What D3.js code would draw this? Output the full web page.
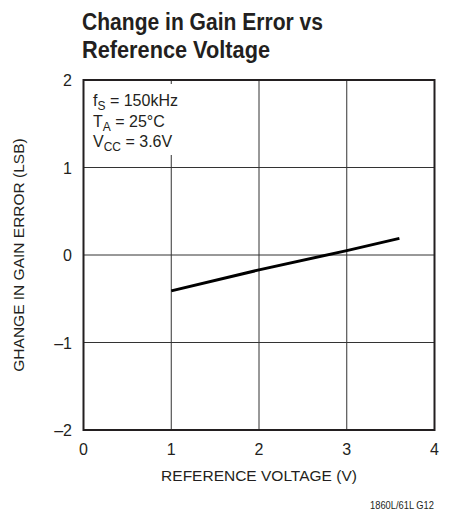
<!DOCTYPE html>
<html><head><meta charset="utf-8">
<script src="https://cdn.jsdelivr.net/npm/d3@7"></script>
<style>
body{margin:0;background:#fff;}
text{font-family:"Liberation Sans Narrow","Liberation Sans",Arial,sans-serif;fill:#231f20;}
</style></head>
<body><svg id="c" width="466" height="512"></svg>
<script>
const xTicks=[0,1,2,3,4];
const yTicks=[-2,-1,0,1,2];
const yTickLabels=["–2","–1","0","1","2"];
const refVoltage=[1,2,3,3.6];
const gainErrorChange=[-0.41,-0.17,0.05,0.19];
const titleLines=["Change in Gain Error vs","Reference Voltage"];
const titleWidths=[241,188];
const xLabel="REFERENCE VOLTAGE (V)";
const yLabel="GHANGE IN GAIN ERROR (LSB)";
const footnote="1860L/61L G12";

const svg=d3.select("#c");
const L=83.5,R=434.5,T=80,B=430;
const x=d3.scaleLinear().domain([0,4]).range([L,R]);
const y=d3.scaleLinear().domain([-2,2]).range([B,T]);

// title
svg.selectAll("text.title").data(titleLines).enter().append("text")
 .attr("x",82).attr("y",(d,i)=>30+i*28)
 .attr("font-size",23).attr("font-weight","bold")
 .attr("textLength",(d,i)=>titleWidths[i]).attr("lengthAdjust","spacingAndGlyphs").text(d=>d);

// grid
const g=svg.append("g");
g.selectAll("line.v").data(xTicks.slice(1,-1)).enter().append("line")
 .attr("x1",d=>x(d)).attr("x2",d=>x(d)).attr("y1",T).attr("y2",B)
 .attr("stroke","#333").attr("stroke-width",1);
g.selectAll("line.h").data(yTicks.slice(1,-1)).enter().append("line")
 .attr("x1",L).attr("x2",R).attr("y1",d=>y(d)).attr("y2",d=>y(d))
 .attr("stroke","#333").attr("stroke-width",1);

// annotation background
svg.append("rect").attr("x",86).attr("y",84).attr("width",112).attr("height",71).attr("fill","#fff");
const ann=[["f","S"," = 150kHz"],["T","A"," = 25°C"],["V","CC"," = 3.6V"]];
ann.forEach((a,i)=>{
 const t=svg.append("text").attr("x",93).attr("y",106+i*20.5).attr("font-size",16);
 t.append("tspan").text(a[0]);
 t.append("tspan").attr("font-size",12).attr("dy",4).text(a[1]);
 t.append("tspan").attr("dy",-4).text(a[2]);
});

// frame
svg.append("rect").attr("x",L).attr("y",T).attr("width",R-L).attr("height",B-T)
 .attr("fill","none").attr("stroke","#231f20").attr("stroke-width",2);

// data line
svg.append("path").datum(refVoltage.map((v,i)=>[v,gainErrorChange[i]]))
 .attr("d",d3.line().x(d=>x(d[0])).y(d=>y(d[1])))
 .attr("fill","none").attr("stroke","#000").attr("stroke-width",3);

// tick labels
svg.selectAll("text.xt").data(xTicks).enter().append("text")
 .attr("x",d=>x(d)).attr("y",455).attr("text-anchor","middle").attr("font-size",16).text(d=>d);
svg.selectAll("text.yt").data(yTicks).enter().append("text")
 .attr("x",72).attr("y",d=>y(d)+6).attr("text-anchor","end").attr("font-size",16)
 .text((d,i)=>yTickLabels[i]);

// axis labels
svg.append("text").attr("x",x(2)).attr("y",481).attr("text-anchor","middle").attr("font-size",15.5).text(xLabel);
svg.append("text").attr("transform","translate(24,"+y(0)+") rotate(-90)").attr("text-anchor","middle").attr("font-size",15.5).text(yLabel);
svg.append("text").attr("x",434).attr("y",509).attr("text-anchor","end").attr("font-size",11)
 .attr("textLength",64).attr("lengthAdjust","spacingAndGlyphs").text(footnote);
</script></body></html>
